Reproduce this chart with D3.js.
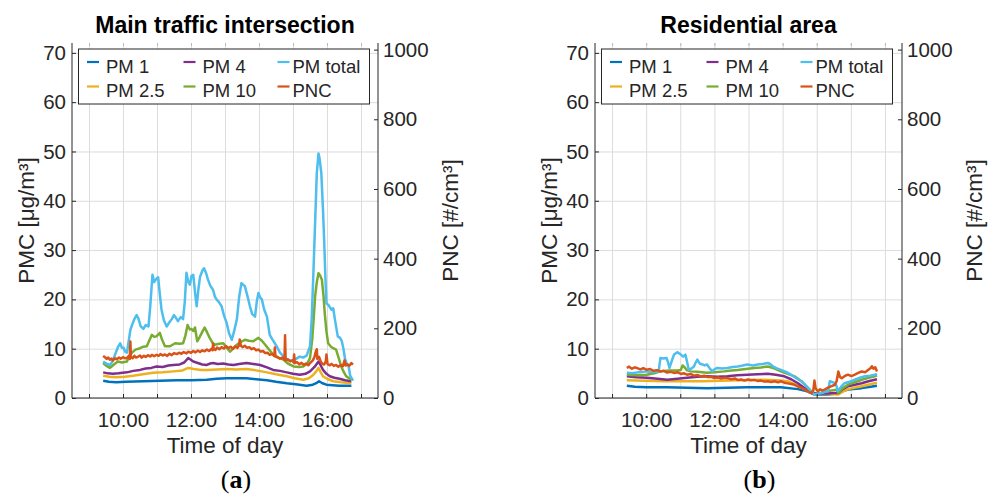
<!DOCTYPE html>
<html>
<head>
<meta charset="utf-8">
<script src="https://cdn.jsdelivr.net/npm/d3@7"></script>
<style>
  body { margin: 0; background: #fff; }
  svg { display: block; font-family: "Liberation Sans", Arial, sans-serif; }
</style>
</head>
<body>
<svg id="chart" width="993" height="494"></svg>
<script>
// ---- Series metadata ----
const seriesNames = ["PM 1", "PM 2.5", "PM 4", "PM 10", "PM total", "PNC"];
const seriesColors = ["#0072BD", "#EDB120", "#7E2F8E", "#77AC30", "#4DBEEE", "#D95319"];

// ---- Axis ticks ----
const pmcTicks = [0, 10, 20, 30, 40, 50, 60, 70];
const pncTicks = [0, 200, 400, 600, 800, 1000];
const hourTicks = ["09:00", "10:00", "11:00", "12:00", "13:00", "14:00", "15:00", "16:00", "17:00"];
const hourLabels = ["10:00", "12:00", "14:00", "16:00"];

// ---- Main traffic intersection: [time, value] ----
const mainPm1 = [["09:25",3.5],["09:35",3.3],["09:48",3.2],["10:05",3.3],["10:36",3.4],["11:05",3.5],["11:35",3.6],["12:00",3.6],["12:28",3.7],["12:45",3.9],["13:03",4.0],["13:20",4.0],["13:38",4.0],["13:55",3.8],["14:14",3.6],["14:30",3.3],["14:49",3.0],["15:05",2.8],["15:24",2.5],["15:35",2.7],["15:41",3.0],["15:46",3.4],["15:52",3.0],["15:59",2.7],["16:10",2.6],["16:22",2.5],["16:43",2.5]];
const mainPm25 = [["09:25",4.5],["09:36",4.3],["09:48",4.2],["10:03",4.3],["10:18",4.5],["10:35",4.8],["10:53",5.1],["11:10",5.2],["11:29",5.4],["11:45",5.6],["11:55",6.1],["12:05",5.9],["12:18",5.7],["12:28",5.7],["12:45",5.8],["13:03",5.9],["13:20",5.8],["13:38",5.9],["13:55",5.6],["14:14",5.2],["14:30",4.8],["14:49",4.4],["15:03",4.0],["15:18",3.7],["15:28",4.0],["15:36",4.7],["15:41",5.4],["15:45",6.1],["15:49",5.2],["15:53",4.4],["16:00",3.9],["16:11",3.4],["16:25",3.2],["16:43",3.0]];
const mainPm4 = [["09:25",5.2],["09:33",5.0],["09:42",4.9],["09:52",5.0],["10:07",5.2],["10:18",5.5],["10:30",5.7],["10:40",6.0],["10:50",6.1],["10:59",6.4],["11:10",6.3],["11:20",6.6],["11:29",6.7],["11:40",6.8],["11:48",7.2],["11:55",8.1],["11:59",7.8],["12:04",7.4],["12:12",7.1],["12:20",6.8],["12:28",6.7],["12:34",7.0],["12:39",7.1],["12:47",6.9],["12:57",7.0],["13:06",6.8],["13:15",6.7],["13:25",6.9],["13:38",7.1],["13:50",6.9],["14:02",6.7],["14:14",6.2],["14:25",5.7],["14:37",5.5],["14:49",5.2],["15:00",4.9],["15:12",4.7],["15:22",4.9],["15:30",5.4],["15:38",6.3],["15:45",7.4],["15:49",6.6],["15:53",5.7],["15:59",4.9],["16:05",4.4],["16:13",4.1],["16:22",3.9],["16:32",3.6],["16:43",3.4]];
const mainPm10 = [["09:25",7.1],["09:31",6.5],["09:37",6.1],["09:44",6.8],["09:51",7.4],["09:58",7.2],["10:07",7.4],["10:11",8.5],["10:15",9.1],["10:22",9.8],["10:30",10.1],["10:36",10.4],["10:42",10.5],["10:47",11.8],["10:51",12.8],["10:55",12.4],["10:59",12.5],["11:05",13.2],["11:09",11.8],["11:14",10.5],["11:23",10.5],["11:32",11.1],["11:40",11.0],["11:46",11.1],["11:50",12.6],["11:54",14.8],["11:58",13.9],["12:01",14.0],["12:04",13.6],["12:07",14.3],["12:11",11.5],["12:15",12.3],["12:19",13.2],["12:24",14.3],["12:28",13.4],["12:33",12.2],["12:38",11.2],["12:42",10.8],["12:50",11.0],["12:57",11.1],["13:03",10.2],["13:09",9.4],["13:15",10.1],["13:21",10.8],["13:28",11.4],["13:35",11.8],["13:42",11.6],["13:50",11.5],["13:55",11.9],["13:59",12.2],["14:05",11.6],["14:11",10.8],["14:18",9.8],["14:25",8.8],["14:34",8.2],["14:43",7.8],["14:52",6.9],["15:01",6.4],["15:10",6.3],["15:18",6.4],["15:25",7.0],["15:30",8.1],["15:34",12.0],["15:37",17.0],["15:39",20.6],["15:42",23.5],["15:45",25.3],["15:48",24.8],["15:51",24.0],["15:54",20.5],["15:56",17.2],["15:59",13.5],["16:02",11.1],["16:07",10.4],["16:11",10.1],["16:16",9.8],["16:21",8.0],["16:25",6.4],["16:30",5.2],["16:34",4.4],["16:39",4.0],["16:43",3.7]];
const mainPmTotal = [["09:25",7.4],["09:30",7.0],["09:37",6.7],["09:42",7.5],["09:46",8.8],["09:51",10.3],["09:55",11.1],["09:58",10.2],["10:01",10.2],["10:04",9.4],["10:07",9.2],["10:10",11.5],["10:13",13.8],["10:16",14.8],["10:20",16.0],["10:24",16.8],["10:27",16.2],["10:31",14.6],["10:36",14.0],["10:40",14.8],["10:45",14.5],["10:48",18.5],["10:52",25.0],["10:55",23.5],["10:59",24.2],["11:02",24.5],["11:05",21.0],["11:08",17.9],["11:12",15.8],["11:17",14.5],["11:21",15.2],["11:26",16.0],["11:30",16.8],["11:32",16.5],["11:37",15.6],["11:42",16.4],["11:46",16.0],["11:49",19.5],["11:52",25.4],["11:55",23.6],["11:58",23.0],["12:01",24.8],["12:04",25.0],["12:07",21.5],["12:10",18.6],["12:13",22.0],["12:16",24.6],["12:20",25.8],["12:23",26.3],["12:27",25.2],["12:30",24.0],["12:34",22.8],["12:39",21.9],["12:42",20.6],["12:45",20.0],["12:49",19.5],["12:54",18.6],["12:58",16.8],["13:03",15.2],["13:07",13.2],["13:12",11.8],["13:16",13.5],["13:21",16.0],["13:25",20.5],["13:29",23.3],["13:32",23.0],["13:35",22.7],["13:40",20.5],["13:44",18.6],["13:48",17.0],["13:53",16.5],["13:56",19.5],["13:59",21.3],["14:02",20.4],["14:05",20.0],["14:09",18.0],["14:14",16.5],["14:19",12.8],["14:23",12.0],["14:28",11.1],["14:32",10.3],["14:37",9.2],["14:43",8.5],["14:49",7.9],["14:55",7.6],["15:01",7.5],["15:06",8.0],["15:12",8.4],["15:18",8.2],["15:24",8.6],["15:30",10.5],["15:33",16.0],["15:36",25.4],["15:39",35.5],["15:42",45.6],["15:45",49.6],["15:47",48.5],["15:50",45.6],["15:53",38.0],["15:55",32.0],["15:57",25.0],["15:59",19.2],["16:03",18.8],["16:08",17.9],["16:11",18.2],["16:14",15.9],["16:19",12.5],["16:23",12.2],["16:26",11.6],["16:29",10.0],["16:32",7.8],["16:35",6.9],["16:38",6.5],["16:41",4.5],["16:46",3.5]];
const mainPnc = [["09:25",121],["09:28",117],["09:31",112],["09:34",116],["09:37",110],["09:40",113],["09:42",108],["09:46",114],["09:49",111],["09:53",116],["09:56",113],["10:00",117],["10:04",114],["10:07",115],["10:10",120],["10:12",112],["10:13",162],["10:14",118],["10:17",114],["10:20",121],["10:23",116],["10:27",119],["10:30",122],["10:33",116],["10:37",121],["10:40",118],["10:44",123],["10:48",119],["10:51",124],["10:55",120],["10:59",124],["11:03",121],["11:06",126],["11:10",122],["11:14",125],["11:18",121],["11:22",127],["11:26",123],["11:30",129],["11:35",126],["11:39",130],["11:43",127],["11:47",132],["11:52",128],["11:55",133],["12:00",130],["12:04",135],["12:08",131],["12:12",136],["12:16",132],["12:20",137],["12:24",134],["12:28",139],["12:32",135],["12:36",141],["12:38",137],["12:39",156],["12:40",140],["12:43",138],["12:46",145],["12:50",140],["12:54",146],["12:58",142],["13:02",149],["13:06",143],["13:10",147],["13:14",141],["13:18",148],["13:22",144],["13:25",152],["13:26",168],["13:28",150],["13:31",146],["13:35",150],["13:39",144],["13:43",146],["13:47",140],["13:51",143],["13:55",137],["13:59",139],["14:03",133],["14:07",135],["14:11",129],["14:15",130],["14:19",124],["14:23",126],["14:27",120],["14:28",145],["14:29",119],["14:33",117],["14:37",113],["14:41",116],["14:45",110],["14:46",180],["14:47",108],["14:51",111],["14:55",105],["14:59",108],["15:01",102],["15:02",125],["15:03",100],["15:07",103],["15:11",97],["15:15",101],["15:19",95],["15:23",99],["15:27",94],["15:31",102],["15:35",108],["15:38",118],["15:40",132],["15:42",140],["15:43",112],["15:46",118],["15:49",104],["15:52",98],["15:55",96],["15:58",106],["15:59",125],["16:01",97],["16:05",94],["16:08",98],["16:12",92],["16:16",95],["16:20",90],["16:24",94],["16:28",91],["16:31",108],["16:33",93],["16:36",97],["16:39",92],["16:43",100],["16:46",96]];

// ---- Residential area: [time, value] ----
const resPm1 = [["09:26",2.5],["09:40",2.3],["10:01",2.2],["10:36",2.2],["11:12",2.1],["11:47",2.0],["12:23",2.1],["12:58",2.2],["13:34",2.2],["13:57",2.2],["14:27",1.8],["14:45",1.3],["14:56",0.7],["15:20",0.7],["15:35",0.9],["15:38",1.1],["15:55",1.7],["16:19",2.0],["16:35",2.3],["16:46",2.5]];
const resPm25 = [["09:26",3.6],["09:58",3.5],["10:31",3.4],["11:05",3.4],["11:40",3.4],["12:10",3.5],["12:45",3.6],["13:28",3.7],["13:50",3.6],["14:09",3.4],["14:27",2.5],["14:45",1.4],["15:00",0.9],["15:20",0.8],["15:38",0.7],["15:46",1.3],["15:55",1.8],["16:19",2.4],["16:42",3.0],["16:46",3.1]];
const resPm4 = [["09:26",4.4],["09:43",4.2],["10:01",4.1],["10:20",3.9],["10:37",3.7],["10:55",3.9],["11:12",4.1],["11:30",4.3],["11:47",4.4],["12:05",4.3],["12:23",4.4],["12:40",4.6],["12:58",4.7],["13:16",4.8],["13:34",4.9],["13:48",4.7],["14:03",4.4],["14:15",3.8],["14:27",3.0],["14:39",2.0],["14:51",1.0],["15:05",0.9],["15:20",0.9],["15:30",1.0],["15:38",1.0],["15:46",1.8],["15:55",2.4],["16:07",2.7],["16:19",3.0],["16:31",3.4],["16:42",3.7],["16:46",3.8]];
const resPm10 = [["09:26",4.7],["09:40",4.6],["10:01",4.7],["10:14",5.0],["10:25",5.4],["10:40",5.6],["10:55",5.6],["11:01",5.7],["11:04",6.6],["11:08",6.2],["11:12",5.6],["11:18",5.4],["11:30",5.3],["11:47",5.1],["12:00",5.2],["12:17",5.4],["12:30",5.6],["12:41",5.7],["12:55",5.9],["13:10",6.1],["13:22",6.2],["13:34",6.4],["13:45",6.0],["13:57",5.4],["14:09",4.9],["14:21",4.4],["14:33",3.4],["14:45",2.0],["14:56",0.7],["15:08",1.1],["15:20",1.4],["15:30",1.6],["15:35",1.7],["15:38",1.0],["15:46",2.0],["15:55",2.7],["16:07",3.2],["16:19",3.7],["16:31",4.1],["16:42",4.4],["16:46",4.6]];
const resPmTotal = [["09:26",5.1],["09:35",5.0],["09:45",5.2],["09:55",5.3],["10:01",5.4],["10:10",5.2],["10:18",5.4],["10:22",5.4],["10:25",8.1],["10:30",8.0],["10:36",8.1],["10:39",7.0],["10:41",6.1],["10:45",7.5],["10:49",8.8],["10:55",9.3],["11:01",8.8],["11:05",8.4],["11:09",8.8],["11:12",7.3],["11:15",5.7],["11:20",6.0],["11:24",6.4],["11:28",7.4],["11:30",7.8],["11:34",7.0],["11:39",6.8],["11:43",6.6],["11:47",6.8],["11:52",6.0],["11:56",5.4],["12:00",5.8],["12:05",6.1],["12:14",6.0],["12:23",6.1],["12:32",6.3],["12:41",6.4],["12:50",6.6],["12:58",6.8],["13:08",6.6],["13:16",6.8],["13:25",6.9],["13:34",7.1],["13:38",6.9],["13:43",6.4],["13:50",6.0],["13:57",5.7],["14:06",5.3],["14:15",4.7],["14:24",4.0],["14:33",3.4],["14:39",2.7],["14:45",2.0],["14:51",1.2],["14:56",0.7],["15:02",0.9],["15:08",1.0],["15:14",1.2],["15:20",1.4],["15:23",3.4],["15:28",3.2],["15:32",3.0],["15:35",2.4],["15:37",1.4],["15:43",2.3],["15:49",3.0],["15:58",3.3],["16:07",3.7],["16:16",4.1],["16:25",4.4],["16:34",4.5],["16:42",4.7],["16:46",4.9]];
const resPnc = [["09:26",86],["09:30",90],["09:35",84],["09:40",88],["09:44",86],["09:50",82],["09:55",86],["10:01",81],["10:07",83],["10:13",78],["10:19",80],["10:25",76],["10:31",78],["10:37",73],["10:43",75],["10:49",72],["10:55",74],["11:01",69],["11:06",71],["11:12",67],["11:18",69],["11:24",64],["11:30",66],["11:36",62],["11:42",64],["11:48",60],["11:54",61],["12:00",57],["12:06",59],["12:12",56],["12:18",58],["12:23",57],["12:30",54],["12:36",56],["12:41",52],["12:47",53],["12:53",50],["12:59",53],["13:05",51],["13:10",52],["13:16",49],["13:22",50],["13:28",47],["13:34",48],["13:40",46],["13:46",48],["13:52",45],["13:57",48],["14:03",44],["14:09",42],["14:15",40],["14:21",38],["14:27",33],["14:33",29],["14:39",24],["14:45",18],["14:51",14],["14:54",22],["14:56",50],["14:58",28],["15:02",19],["15:06",25],["15:10",22],["15:14",24],["15:20",30],["15:26",34],["15:32",38],["15:35",48],["15:38",76],["15:41",60],["15:44",57],["15:50",64],["15:55",67],["16:01",63],["16:07",67],["16:13",72],["16:19",76],["16:25",74],["16:31",81],["16:35",86],["16:37",91],["16:40",84],["16:43",88],["16:46",76]];

const panels = [
  { title: "Main traffic intersection", tag: "a", x0: 72, x1: 378,
    series: [mainPm1, mainPm25, mainPm4, mainPm10, mainPmTotal, mainPnc] },
  { title: "Residential area", tag: "b", x0: 595, x1: 902,
    series: [resPm1, resPm25, resPm4, resPm10, resPmTotal, resPnc] }
];

const parseTime = d3.timeParse("%H:%M");
const svg = d3.select("#chart");
svg.append("rect").attr("width", 993).attr("height", 494).attr("fill", "#fff");

const TOP = 43, BOTTOM = 398;
const INK = "#262626", GRID = "#dcdcdc";
const TICK_FONT = 20.5, LABEL_FONT = 22.5, LEGEND_FONT = 18.5, TITLE_FONT = 23;
const SANS = "Liberation Sans, Arial, sans-serif";

panels.forEach(p => {
  const g = svg.append("g");
  const x = d3.scaleTime().domain([parseTime("08:30"), parseTime("17:30")]).range([p.x0, p.x1]);
  const yL = d3.scaleLinear().domain([0, 72]).range([BOTTOM, TOP]);
  const yR = d3.scaleLinear().domain([0, 1019]).range([BOTTOM, TOP]);
  const hours = hourTicks.map(parseTime);
  const labelSet = new Set(hourLabels);
  const fmt = d3.timeFormat("%H:%M");
  const w = p.x1 - p.x0, h = BOTTOM - TOP;

  // grid
  const gx = g.append("g").attr("transform", `translate(0,${BOTTOM})`)
    .call(d3.axisBottom(x).tickValues(hours).tickSize(-h).tickFormat(""));
  gx.select(".domain").remove();
  gx.selectAll("line").attr("stroke", GRID).attr("stroke-width", 1);
  const gy = g.append("g").attr("transform", `translate(${p.x0},0)`)
    .call(d3.axisLeft(yL).tickValues(pmcTicks).tickSize(-w).tickFormat(""));
  gy.select(".domain").remove();
  gy.selectAll("line").attr("stroke", GRID).attr("stroke-width", 1);

  // data lines
  p.series.forEach((data, i) => {
    const yScale = i === 5 ? yR : yL;
    const line = d3.line().x(d => x(parseTime(d[0]))).y(d => yScale(d[1]));
    g.append("path").datum(data).attr("d", line)
      .attr("fill", "none").attr("stroke", seriesColors[i])
      .attr("stroke-width", 2.5).attr("stroke-linejoin", "round");
  });

  // bottom axis
  const ax = g.append("g").attr("transform", `translate(0,${BOTTOM})`)
    .call(d3.axisBottom(x).tickValues(hours).tickSizeInner(-4).tickSizeOuter(0).tickPadding(14)
      .tickFormat(d => labelSet.has(fmt(d)) ? fmt(d) : ""));
  ax.select(".domain").attr("stroke", INK).attr("d", `M${p.x0},0H${p.x1}`);
  ax.selectAll("line").attr("stroke", INK);
  ax.selectAll("text").attr("fill", INK).attr("font-size", TICK_FONT).attr("font-family", SANS);

  // faint top ticks
  const at = g.append("g").attr("transform", `translate(0,${TOP})`)
    .call(d3.axisTop(x).tickValues(hours).tickSizeInner(-3).tickSizeOuter(0).tickFormat(""));
  at.select(".domain").remove();
  at.selectAll("line").attr("stroke", "#b8b8b8");

  // left axis
  const al = g.append("g").attr("transform", `translate(${p.x0},0)`)
    .call(d3.axisLeft(yL).tickValues(pmcTicks).tickSizeInner(-4).tickSizeOuter(0).tickPadding(6)
      .tickFormat(d3.format("d")));
  al.select(".domain").attr("stroke", INK).attr("d", `M0,${TOP}V${BOTTOM}`);
  al.selectAll("line").attr("stroke", INK);
  al.selectAll("text").attr("fill", INK).attr("font-size", TICK_FONT).attr("font-family", SANS);

  // right axis
  const ar = g.append("g").attr("transform", `translate(${p.x1},0)`)
    .call(d3.axisRight(yR).tickValues(pncTicks).tickSizeInner(-4).tickSizeOuter(0).tickPadding(5)
      .tickFormat(d3.format("d")));
  ar.select(".domain").attr("stroke", INK).attr("d", `M0,${TOP}V${BOTTOM}`);
  ar.selectAll("line").attr("stroke", INK);
  ar.selectAll("text").attr("fill", INK).attr("font-size", TICK_FONT).attr("font-family", SANS);

  // titles and labels
  const cx = (p.x0 + p.x1) / 2, cy = (TOP + BOTTOM) / 2;
  g.append("text").attr("x", cx).attr("y", 33).attr("text-anchor", "middle")
    .attr("font-size", TITLE_FONT).attr("font-weight", "bold").attr("fill", "#000").text(p.title);
  g.append("text").attr("x", cx).attr("y", 453).attr("text-anchor", "middle")
    .attr("font-size", LABEL_FONT).attr("fill", INK).text("Time of day");
  g.append("text").attr("transform", `translate(${p.x0 - 38},${cy}) rotate(-90)`)
    .attr("text-anchor", "middle").attr("font-size", LABEL_FONT).attr("fill", INK)
    .text("PMC [μg/m³]");
  g.append("text").attr("transform", `translate(${p.x1 + 80},${cy}) rotate(-90)`)
    .attr("text-anchor", "middle").attr("font-size", LABEL_FONT).attr("fill", INK)
    .text("PNC [#/cm³]");

  // panel tag
  const tag = g.append("text").attr("x", cx + 11).attr("y", 488).attr("text-anchor", "middle")
    .attr("font-family", "Liberation Serif, 'Times New Roman', serif").attr("font-size", 26).attr("fill", "#000");
  tag.append("tspan").text("(");
  tag.append("tspan").attr("font-weight", "bold").text(p.tag);
  tag.append("tspan").text(")");

  // legend
  const lx = p.x0 + 6.5, ly = 49, lw = 291, lh = 55;
  const lg = g.append("g");
  lg.append("rect").attr("x", lx).attr("y", ly).attr("width", lw).attr("height", lh)
    .attr("fill", "#fff").attr("stroke", INK).attr("stroke-width", 1);
  const lineOff = [8.5, 105, 199], textOff = [27.5, 124, 214];
  const lineY = [13, 37.5], textY = [24, 47.7];
  seriesNames.forEach((name, i) => {
    const col = Math.floor(i / 2), row = i % 2;
    lg.append("line")
      .attr("x1", lx + lineOff[col]).attr("x2", lx + lineOff[col] + 12)
      .attr("y1", ly + lineY[row]).attr("y2", ly + lineY[row])
      .attr("stroke", seriesColors[i]).attr("stroke-width", 2.2);
    lg.append("text").attr("x", lx + textOff[col]).attr("y", ly + textY[row])
      .attr("font-size", LEGEND_FONT).attr("fill", INK).text(name);
  });
});
</script>
</body>
</html>
